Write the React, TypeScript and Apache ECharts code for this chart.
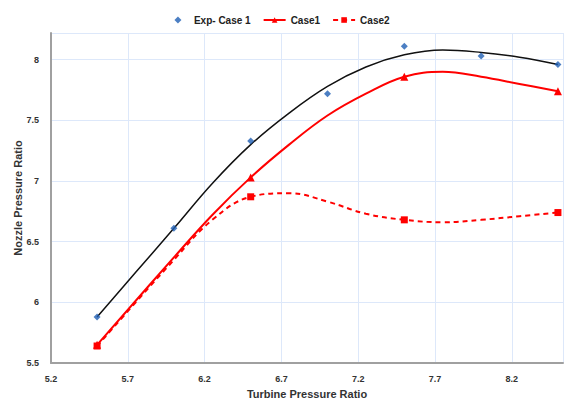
import React, { useEffect, useRef } from "react";
import * as echarts from "echarts";

// Experimental points (Exp- Case 1)
const expX = [5.5, 6.0, 6.5, 7.0, 7.5, 8.0, 8.5];
const expY = [5.88, 6.61, 7.33, 7.72, 8.11, 8.03, 7.96];

const fitX = [5.5, 5.75, 6.0, 6.25, 6.5, 6.75, 7.0, 7.25, 7.5, 7.75, 8.0, 8.25, 8.5];
const fitY = [5.88, 6.245, 6.61, 6.98, 7.3, 7.56, 7.78, 7.94, 8.04, 8.08, 8.06, 8.02, 7.96];

// Case1 (solid red) curve samples; markers at given indices
const case1X = [5.5, 6.0, 6.25, 6.5, 6.75, 7.0, 7.25, 7.5, 7.75, 8.0, 8.25, 8.5];
const case1Y = [5.65, 6.37, 6.72, 7.03, 7.3, 7.54, 7.72, 7.86, 7.9, 7.86, 7.8, 7.74];
const case1Markers = [0, 3, 7, 11];

// Case2 (dashed red) curve samples; markers at given indices
const case2X = [5.5, 6.0, 6.25, 6.5, 6.75, 7.0, 7.25, 7.5, 7.75, 8.0, 8.25, 8.5];
const case2Y = [5.64, 6.35, 6.68, 6.87, 6.9, 6.83, 6.73, 6.68, 6.66, 6.68, 6.71, 6.74];
const case2Markers = [0, 3, 7, 11];

const xTickStart = 5.2;
const xTickStep = 0.5;
const yTickStart = 5.5;
const yTickStep = 0.5;

export default function App() {
  const ref = useRef<HTMLDivElement>(null);
  useEffect(() => {
    if (!ref.current) return;
    const chart = echarts.init(ref.current, undefined, { renderer: "svg" });
    const font = "Liberation Sans, Arial, sans-serif";
    const red = "#ff0000";
    chart.setOption({
      animation: false,
      backgroundColor: "#ffffff",
      legend: {
        top: 10,
        left: "center",
        itemGap: 12,
        itemWidth: 22,
        itemHeight: 7,
        symbolKeepAspect: true,
        textStyle: { fontFamily: font, fontWeight: "bold", fontSize: 10, color: "#222" },
        data: [
          { name: "Exp- Case 1", icon: "path://M5,0L10,5L5,10L0,5Z", itemStyle: { color: "#1f5fb4" } },
          { name: "Case1" },
          { name: "Case2" },
        ],
      },
      grid: { left: 51, right: 1, top: 33, bottom: 42, outerBoundsMode: "none", containLabel: false },
      xAxis: {
        type: "value",
        min: xTickStart,
        max: 8.533,
        interval: xTickStep,
        name: "Turbine Pressure Ratio",
        nameLocation: "middle",
        nameGap: 25,
        nameMoveOverlap: false,
        nameTextStyle: { fontFamily: font, fontWeight: "bold", fontSize: 11, color: "#333" },
        axisLine: { lineStyle: { color: "#a0a0a0", width: 2 } },
        axisTick: { show: false },
        axisLabel: {
          showMaxLabel: false,
          fontFamily: font,
          fontWeight: "bold",
          fontSize: 9,
          color: "#333",
          margin: 11,
          formatter: (v: number) => v.toFixed(1),
        },
        splitLine: { show: true, lineStyle: { color: "#dde8fa", width: 1 } },
      },
      yAxis: {
        type: "value",
        min: yTickStart,
        max: 8.22,
        interval: yTickStep,
        name: "Nozzle Pressure Ratio",
        nameLocation: "middle",
        nameGap: 28,
        nameMoveOverlap: false,
        nameTextStyle: { fontFamily: font, fontWeight: "bold", fontSize: 11, color: "#333" },
        axisLine: { show: true, lineStyle: { color: "#a0a0a0", width: 2 } },
        axisTick: { show: false },
        axisLabel: {
          showMaxLabel: false,
          fontFamily: font,
          fontWeight: "bold",
          fontSize: 9,
          color: "#333",
          margin: 12,
        },
        splitLine: { show: true, lineStyle: { color: "#dde8fa", width: 1 } },
      },
      series: [
        {
          name: "fit",
          type: "line",
          smooth: 0.4,
          showSymbol: false,
          symbol: "none",
          lineStyle: { color: "#111", width: 1.5 },
          data: fitX.map((x, i) => [x, fitY[i]]),
          z: 2,
        },
        {
          name: "Case1",
          type: "line",
          smooth: 0.4,
          symbol: "triangle",
          symbolSize: 8,
          itemStyle: { color: red },
          lineStyle: { color: red, width: 2 },
          data: case1X.map((x, i) => ({
            value: [x, case1Y[i]],
            symbol: case1Markers.includes(i) ? "triangle" : "none",
          })),
          z: 3,
        },
        {
          name: "Case2",
          type: "line",
          smooth: 0.4,
          symbol: "rect",
          symbolSize: 7,
          itemStyle: { color: red },
          lineStyle: { color: red, width: 2, type: [5, 4] },
          data: case2X.map((x, i) => ({
            value: [x, case2Y[i]],
            symbol: case2Markers.includes(i) ? "rect" : "none",
          })),
          z: 4,
        },
        {
          name: "Exp- Case 1",
          type: "scatter",
          symbol: "diamond",
          symbolSize: 7,
          itemStyle: { color: "#1f5fb4" },
          data: expX.map((x, i) => [x, expY[i]]),
          z: 5,
        },
      ],
    });
    return () => chart.dispose();
  }, []);
  return <div ref={ref} style={{ width: 564, height: 405, position: "absolute", left: 0, top: 0 }} />;
}
